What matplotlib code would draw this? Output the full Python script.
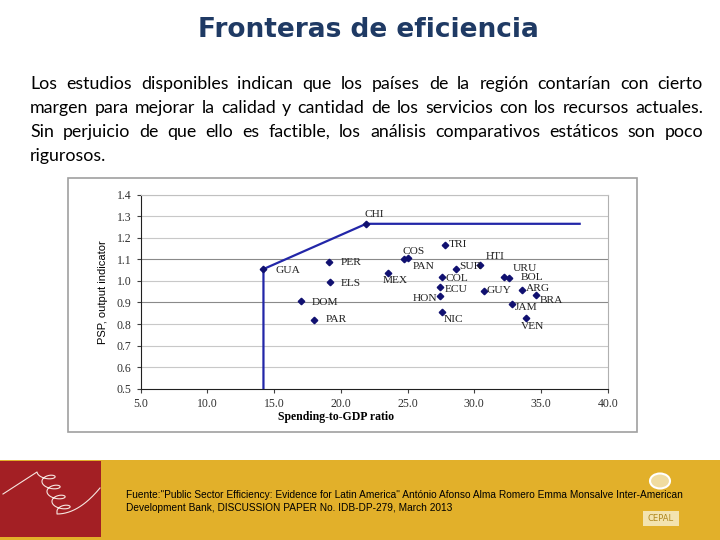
import numpy as np
import matplotlib.pyplot as plt
import matplotlib.patches as mpatches
from matplotlib.lines import Line2D

# data
countries = ['GUA', 'PER', 'ELS', 'DOM', 'PAR', 'CHI', 'TRI', 'COS', 'PAN', 'MEX',
             'SUR', 'HTI', 'COL', 'ECU', 'HON', 'NIC', 'GUY', 'URU', 'BOL', 'ARG',
             'BRA', 'JAM', 'VEN']
spending = [14.2, 19.1, 19.2, 17.0, 18.0, 21.9, 27.8, 24.7, 25.0, 23.5,
            28.6, 30.4, 27.6, 27.4, 27.4, 27.6, 30.7, 32.2, 32.6, 33.6,
            34.6, 32.8, 33.9]
psp = [1.055, 1.09, 0.995, 0.905, 0.82, 1.265, 1.168, 1.10, 1.105, 1.037,
       1.055, 1.072, 1.018, 0.973, 0.932, 0.854, 0.955, 1.018, 1.013, 0.959,
       0.933, 0.894, 0.828]
frontier_x = [14.2, 14.2, 21.9, 37.9]
frontier_y = [0.5, 1.055, 1.265, 1.265]
x_ticks = [5, 10, 15, 20, 25, 30, 35, 40]
y_ticks = [0.5, 0.6, 0.7, 0.8, 0.9, 1.0, 1.1, 1.2, 1.3, 1.4]

# label offsets in pixels (dx, dy downwards, align)
offsets = {
    'GUA': (12, 1, 'left'), 'PER': (12, 1, 'left'), 'ELS': (11, 1, 'left'),
    'DOM': (11, 1, 'left'), 'PAR': (12, 0, 'left'), 'CHI': (-2, -9, 'left'),
    'TRI': (4, 0, 'left'), 'COS': (-1, -8, 'left'), 'PAN': (5, 8, 'left'),
    'MEX': (-5, 8, 'left'), 'SUR': (4, -3, 'left'), 'HTI': (6, -9, 'left'),
    'COL': (3, 1, 'left'), 'ECU': (5, 3, 'left'), 'HON': (-2, 3, 'right'),
    'NIC': (1, 7, 'left'), 'GUY': (3, 0, 'left'), 'URU': (9, -9, 'left'),
    'BOL': (12, -1, 'left'), 'ARG': (4, -1, 'left'), 'BRA': (4, 5, 'left'),
    'JAM': (3, 4, 'left'), 'VEN': (-5, 9, 'left'),
}

W, H = 720, 540
fig = plt.figure(figsize=(7.2, 5.4), dpi=100)
fig.patch.set_facecolor('white')


def fx(px):
    return px / W


def fy(py):
    return 1 - py / H


# title and body text
fig.text(fx(368), fy(30), 'Fronteras de eficiencia', ha='center', va='center',
         fontsize=19, fontweight='bold', color='#1f3a64', family='DejaVu Sans')

body = [
    'Los estudios disponibles indican que los países de la región contarían con cierto',
    'margen para mejorar la calidad y cantidad de los servicios con los recursos actuales.',
    'Sin perjuicio de que ello es factible, los análisis comparativos estáticos son poco',
    'rigurosos.',
]
renderer = fig.canvas.get_renderer()
x_left, x_right = 30, 703
for i, line in enumerate(body):
    y = 89 + 24 * i
    words = line.split()
    texts = [fig.text(0, fy(y), w, ha='left', va='baseline', fontsize=12.8,
                      family='Lato', color='black') for w in words]
    widths = [t.get_window_extent(renderer).width for t in texts]
    if i < len(body) - 1:
        gap = (x_right - x_left - sum(widths)) / (len(words) - 1)
    else:
        gap = 4
    x = x_left
    for t, w in zip(texts, widths):
        t.set_x(fx(x))
        x += w + gap

# chart frame
fig.patches.append(mpatches.Rectangle((fx(68), fy(432)), 569 / W, 254 / H,
                                      transform=fig.transFigure, fill=False,
                                      edgecolor='#a0a0a0', linewidth=1.2))

ax = fig.add_axes([fx(140.7), fy(388.7), 467 / W, 194 / H])
for v in y_ticks[1:]:
    c = '#8a8a8a' if v in (0.9, 1.1) else '#c8c8c8'
    ax.axhline(v, color=c, linewidth=0.8, zorder=0)
ax.plot(frontier_x, frontier_y, color='#2226a8', linewidth=1.6, zorder=2)
ax.plot(spending, psp, linestyle='none', marker='D', markersize=3.3,
        color='#101070', zorder=3)
for name, xv, yv in zip(countries, spending, psp):
    dx, dy, ha = offsets[name]
    ax.annotate(name, (xv, yv), xytext=(dx, -dy), textcoords='offset pixels',
                ha=ha, va='center', fontsize=8.2, family='Liberation Serif',
                color='#202020')

ax.set_xlim(5, 40)
ax.set_ylim(0.5, 1.4)
ax.set_xticks(x_ticks)
ax.set_xticklabels([f'{v:.1f}' for v in x_ticks])
ax.set_yticks(y_ticks)
ax.set_yticklabels([f'{v:.1f}' for v in y_ticks])
ax.tick_params(labelsize=8.5, length=3, width=0.8, color='#404040',
               labelcolor='#303030')
for lab in ax.get_xticklabels() + ax.get_yticklabels():
    lab.set_family('Liberation Serif')
ax.spines['left'].set_color('#202020')
ax.spines['bottom'].set_color('#202020')
ax.spines['top'].set_color('#c0c0c0')
ax.spines['right'].set_color('#b0b0b0')
ax.set_xlabel('Spending-to-GDP ratio', fontsize=8.5, fontweight='bold',
              family='Liberation Serif')
ax.xaxis.set_label_coords(0.418, -0.115)
ax.set_ylabel('PSP, output indicator', fontsize=8, family='Liberation Sans',
              labelpad=6)

# footer band
fig.patches.append(mpatches.Rectangle((0, 0), 1, 80 / H, transform=fig.transFigure,
                                      facecolor='#e2b02a', edgecolor='none'))
fig.patches.append(mpatches.Rectangle((0, fy(537)), 101 / W, 76 / H,
                                      transform=fig.transFigure,
                                      facecolor='#a31f24', edgecolor='none'))
# squiggle decoration: lead-in, coil, tail
lead = np.linspace(0, 1, 40)
lx = 3 + 34 * lead
ly = 494 - 22 * lead
ct = np.linspace(0, 1, 300)
cx = 37 + 20 * ct + 13 * (1 - np.cos(2 * np.pi * 4 * ct)) * 0.6
cy = 472 + 40 * ct + 4 * np.sin(2 * np.pi * 4 * ct)
tail = np.linspace(0, 1, 60)
tx = cx[-1] + 43 * tail
ty = cy[-1] + 2 - 26 * tail ** 2
sx = np.concatenate([lx, cx, tx])
sy = np.concatenate([ly, cy, ty])
fig.lines.append(Line2D(fx(sx), fy(sy), transform=fig.transFigure,
                        color='#f6e6e0', linewidth=0.8))

fig.text(fx(126), fy(495), 'Fuente:"Public Sector Efficiency: Evidence for Latin America" '
         'António Afonso Alma Romero Emma Monsalve Inter-American',
         fontsize=7.25, family='Liberation Sans', va='center', ha='left')
fig.text(fx(126), fy(508), 'Development Bank, DISCUSSION PAPER No. IDB-DP-279, March 2013',
         fontsize=7.25, family='Liberation Sans', va='center', ha='left')

# logo
fig.patches.append(mpatches.Circle((fx(660), fy(481)), 10 / W,
                                   transform=fig.transFigure, facecolor='#f0dca0',
                                   edgecolor='white', linewidth=1.5))
fig.patches.append(mpatches.Rectangle((fx(643), fy(526)), 36 / W, 15 / H,
                                      transform=fig.transFigure,
                                      facecolor='#f3e3b0', edgecolor='none'))
fig.text(fx(661), fy(518.5), 'CEPAL', fontsize=6, color='#b08820',
         ha='center', va='center', family='DejaVu Sans')

fig.savefig('out.png', dpi=100)
